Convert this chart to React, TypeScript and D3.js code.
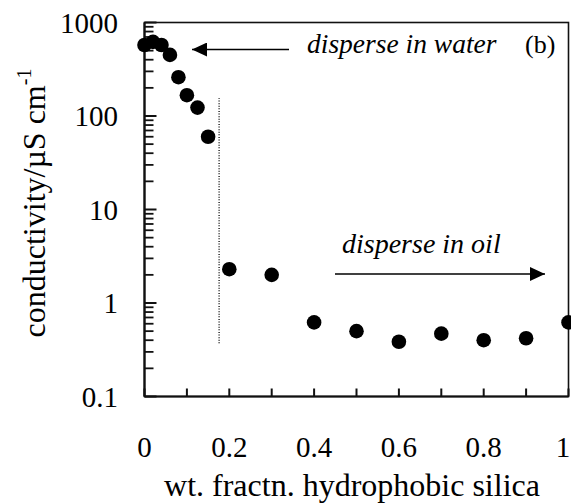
import { useEffect, useRef } from "react";
import * as d3 from "d3";

// wt. fraction of hydrophobic silica vs conductivity (µS cm^-1)
const fractions = [0, 0.02, 0.04, 0.06, 0.08, 0.1, 0.125, 0.15, 0.2, 0.3, 0.4, 0.5, 0.6, 0.7, 0.8, 0.9, 1.0];
const conductivity = [575, 620, 575, 450, 260, 167, 123, 60, 2.3, 2.0, 0.62, 0.5, 0.385, 0.47, 0.4, 0.42, 0.62];
const xTicks = [0, 0.1, 0.2, 0.3, 0.4, 0.5, 0.6, 0.7, 0.8, 0.9, 1];
const xTickLabels = ["0", "0.2", "0.4", "0.6", "0.8", "1"];
const yTickLabels = ["0.1", "1", "10", "100", "1000"];
const inversion = { x: 0.176, from: 0.37, to: 155 };

export default function App() {
  const ref = useRef<SVGSVGElement | null>(null);

  useEffect(() => {
    if (!ref.current) return;
    const svg = d3.select(ref.current);
    svg.selectAll("*").remove();

    const W = 571;
    const left = 144.5, right = 568.5, top = 22.5, bottom = 396.5;
    const font = "'Liberation Serif', 'Times New Roman', serif";

    const x = d3.scaleLinear().domain([0, 1]).range([left, right]);
    const y = d3.scaleLog().domain([0.1, 1000]).range([bottom, top]);

    const defs = svg.append("defs");
    defs.append("marker")
      .attr("id", "head")
      .attr("viewBox", "0 0 15 14")
      .attr("refX", 15).attr("refY", 7)
      .attr("markerWidth", 15).attr("markerHeight", 14)
      .attr("markerUnits", "userSpaceOnUse")
      .attr("orient", "auto")
      .append("path").attr("d", "M0,0L15,7L0,14Z").attr("fill", "#000");

    // frame
    svg.append("rect")
      .attr("x", left).attr("y", top)
      .attr("width", right - left).attr("height", bottom - top)
      .attr("fill", "none").attr("stroke", "#111").attr("stroke-width", 1.6);
    svg.append("line")
      .attr("x1", left).attr("x2", left).attr("y1", top).attr("y2", bottom)
      .attr("stroke", "#111").attr("stroke-width", 2.2);
    svg.append("line")
      .attr("x1", left).attr("x2", right).attr("y1", bottom).attr("y2", bottom)
      .attr("stroke", "#111").attr("stroke-width", 2.2);

    // x ticks (inward)
    svg.append("g").selectAll("line").data(xTicks).join("line")
      .attr("x1", d => x(d)).attr("x2", d => x(d))
      .attr("y1", bottom).attr("y2", bottom - 8)
      .attr("stroke", "#111").attr("stroke-width", 2);

    svg.append("g").selectAll("text").data(xTickLabels).join("text")
      .attr("x", d => Math.min(x(+d), W - 8))
      .attr("y", 457)
      .attr("text-anchor", "middle")
      .attr("font-family", font).attr("font-size", 29)
      .text(d => d);

    // y ticks: majors and minors
    const minors: number[] = [];
    for (let e = -1; e < 3; e++) {
      for (let m = 2; m <= 9; m++) minors.push(m * Math.pow(10, e));
    }
    svg.append("g").selectAll("line").data(minors).join("line")
      .attr("x1", left).attr("x2", left + 9)
      .attr("y1", d => y(d)).attr("y2", d => y(d))
      .attr("stroke", "#111").attr("stroke-width", 1.8);
    svg.append("g").selectAll("line").data(yTickLabels).join("line")
      .attr("x1", left).attr("x2", left + 12)
      .attr("y1", d => y(+d)).attr("y2", d => y(+d))
      .attr("stroke", "#111").attr("stroke-width", 2);

    svg.append("g").selectAll("text").data(yTickLabels).join("text")
      .attr("x", 118).attr("y", d => y(+d) + 10)
      .attr("text-anchor", "end")
      .attr("font-family", font).attr("font-size", 29)
      .text(d => d);

    // axis titles
    svg.append("text")
      .attr("x", 352).attr("y", 496)
      .attr("text-anchor", "middle")
      .attr("font-family", font).attr("font-size", 32)
      .text("wt. fractn. hydrophobic silica");

    const yl = svg.append("text")
      .attr("transform", "translate(45,203) rotate(-90)")
      .attr("text-anchor", "middle")
      .attr("font-family", font).attr("font-size", 32);
    yl.append("tspan").text("conductivity/µS cm");
    yl.append("tspan").attr("dy", -14).attr("font-size", 20).text("-1");

    // phase inversion marker
    svg.append("line")
      .attr("x1", x(inversion.x)).attr("x2", x(inversion.x))
      .attr("y1", y(inversion.from)).attr("y2", y(inversion.to))
      .attr("stroke", "#333").attr("stroke-width", 1.6)
      .attr("stroke-dasharray", "1,1.6");

    // annotations
    svg.append("line")
      .attr("x1", 289).attr("x2", 192).attr("y1", 49.5).attr("y2", 49.5)
      .attr("stroke", "#000").attr("stroke-width", 1.3)
      .attr("marker-end", "url(#head)");
    svg.append("text")
      .attr("x", 307).attr("y", 53)
      .attr("font-family", font).attr("font-style", "italic").attr("font-size", 27.5)
      .text("disperse in water");
    svg.append("text")
      .attr("x", 525).attr("y", 53)
      .attr("font-family", font).attr("font-size", 26)
      .text("(b)");

    svg.append("line")
      .attr("x1", 335).attr("x2", 545).attr("y1", 274).attr("y2", 274)
      .attr("stroke", "#000").attr("stroke-width", 1.3)
      .attr("marker-end", "url(#head)");
    svg.append("text")
      .attr("x", 342).attr("y", 253)
      .attr("font-family", font).attr("font-style", "italic").attr("font-size", 28)
      .text("disperse in oil");

    // points
    svg.append("g").selectAll("circle").data(fractions).join("circle")
      .attr("cx", d => x(d))
      .attr("cy", (_, i) => y(conductivity[i]))
      .attr("r", 7.3)
      .attr("fill", "#000");
  }, []);

  return (
    <svg
      ref={ref}
      width={571}
      height={504}
      style={{ position: "absolute", left: 0, top: 0, background: "#fff" }}
    />
  );
}
